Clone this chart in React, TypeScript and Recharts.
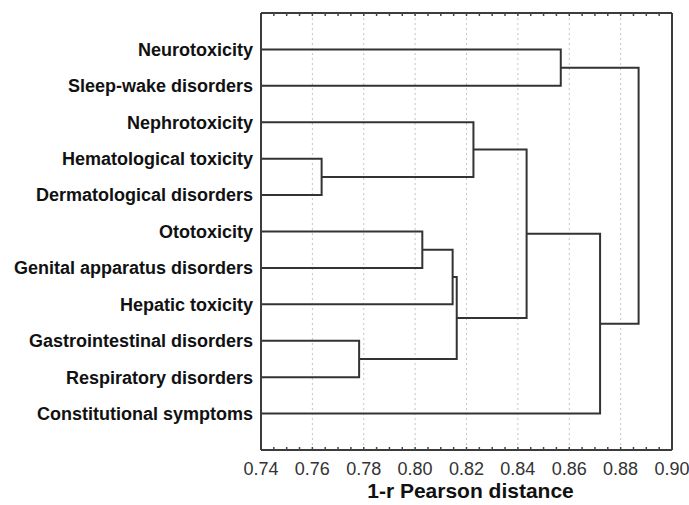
import { LineChart, Line, XAxis, YAxis, CartesianGrid } from "recharts";

// leaves from top to bottom
const leaves = [
  "Neurotoxicity",
  "Sleep-wake disorders",
  "Nephrotoxicity",
  "Hematological toxicity",
  "Dermatological disorders",
  "Ototoxicity",
  "Genital apparatus disorders",
  "Hepatic toxicity",
  "Gastrointestinal disorders",
  "Respiratory disorders",
  "Constitutional symptoms",
];

// linkage: node ids 0-10 are leaves, 11+ are the merged clusters in order
const mergeLeft = [3, 8, 5, 13, 14, 2, 16, 0, 17, 18];
const mergeRight = [4, 9, 6, 7, 12, 11, 15, 1, 10, 19];
const mergeHeight = [0.7636, 0.7782, 0.8028, 0.8146, 0.8162, 0.8227, 0.8434, 0.8567, 0.872, 0.887];

const xTicks = [0.74, 0.76, 0.78, 0.8, 0.82, 0.84, 0.86, 0.88, 0.9];
const minorTicks = Array.from({ length: 33 }, (_, i) => Math.round((0.74 + i * 0.005) * 1000) / 1000);
const rowTicks = leaves.map((_, i) => i + 1);

const X_MIN = 0.74;

// build the U shaped links of the dendrogram
const nodeX: number[] = leaves.map(() => X_MIN);
const nodeY: number[] = leaves.map((_, i) => i + 1);
const links = mergeHeight.map((h, k) => {
  const l = mergeLeft[k];
  const r = mergeRight[k];
  const seg = [
    { x: nodeX[l], y: nodeY[l] },
    { x: h, y: nodeY[l] },
    { x: h, y: nodeY[r] },
    { x: nodeX[r], y: nodeY[r] },
  ];
  nodeX.push(h);
  nodeY.push((nodeY[l] + nodeY[r]) / 2);
  return seg;
});

const axisStroke = { stroke: "#3c3c3c", strokeWidth: 2 };
const tickStroke = { stroke: "#444", strokeWidth: 1.5 };

export default function App() {
  return (
    <div style={{ position: "absolute", left: 0, top: 0, fontFamily: "'Liberation Sans', Arial, sans-serif" }}>
      <LineChart
        width={689}
        height={505}
        margin={{ top: 13, right: 17, bottom: 0, left: 0 }}
        style={{ fontFamily: "'Liberation Sans', Arial, sans-serif" }}
      >
        <CartesianGrid
          xAxisId="b"
          yAxisId="l"
          horizontal={false}
          stroke="#c4c4c4"
          strokeDasharray="2 3"
        />
        <XAxis
          xAxisId="b"
          dataKey="x"
          type="number"
          domain={[0.74, 0.9]}
          allowDataOverflow
          ticks={xTicks}
          interval={0}
          tickFormatter={(v: number) => v.toFixed(2)}
          height={55}
          tickLine={false}
          tickSize={6}
          tickMargin={6}
          axisLine={true}
          stroke="#3c3c3c"
          strokeWidth={2}
          tick={{ fill: "#333", fontSize: 18 }}
          label={{
            value: "1-r Pearson distance",
            position: "insideBottom",
            offset: 7,
            dx: 4,
            fontSize: 21,
            fontWeight: "bold",
            fill: "#111",
          }}
        />
        <XAxis
          xAxisId="bm"
          dataKey="x"
          type="number"
          orientation="bottom"
          mirror
          height={1}
          domain={[0.74, 0.9]}
          allowDataOverflow
          ticks={minorTicks}
          interval={0}
          tickSize={3}
          tickFormatter={() => ""}
          axisLine={false}
          tickLine={tickStroke}
        />
        <XAxis
          xAxisId="tm"
          dataKey="x"
          type="number"
          orientation="top"
          mirror
          height={1}
          domain={[0.74, 0.9]}
          allowDataOverflow
          ticks={minorTicks}
          interval={0}
          tickSize={3}
          tickFormatter={() => ""}
          axisLine={axisStroke}
          tickLine={tickStroke}
        />
        <YAxis
          yAxisId="l"
          type="number"
          domain={[0, 12]}
          reversed
          ticks={rowTicks}
          interval={0}
          width={261}
          tickLine={false}
          tickSize={6}
          tickMargin={2}
          axisLine={axisStroke}
          tickFormatter={(v: number) => leaves[v - 1] ?? ""}
          tick={{ fill: "#111", fontSize: 18, fontWeight: "bold" }}
        />
        <YAxis
          yAxisId="r"
          type="number"
          orientation="right"
          mirror
          width={1}
          domain={[0, 12]}
          reversed
          ticks={rowTicks}
          interval={0}
          tickSize={4}
          tickFormatter={() => ""}
          axisLine={axisStroke}
          tickLine={tickStroke}
        />
        {links.map((seg, i) => (
          <Line
            key={`link-${i}`}
            xAxisId="b"
            yAxisId="l"
            data={seg}
            dataKey="y"
            type="linear"
            stroke="#333"
            strokeWidth={2}
            dot={false}
            activeDot={false}
            isAnimationActive={false}
          />
        ))}
      </LineChart>
    </div>
  );
}
